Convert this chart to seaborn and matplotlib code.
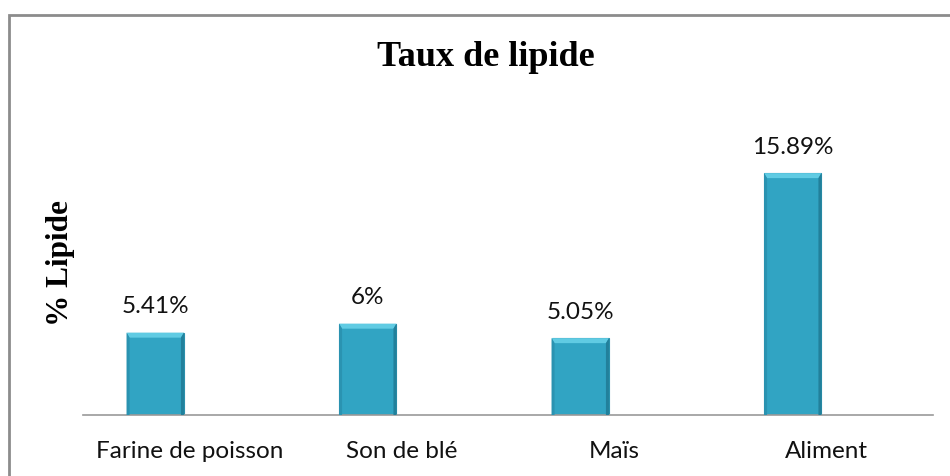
import numpy as np
import pandas as pd
import matplotlib
matplotlib.use("Agg")
import matplotlib.pyplot as plt
from matplotlib.patches import Polygon, Rectangle
import seaborn as sns

categories = ["Farine de poisson", "Son de blé", "Maïs", "Aliment"]
values = [5.41, 6.0, 5.05, 15.89]
value_labels = ["5.41%", "6%", "5.05%", "15.89%"]
title = "Taux de lipide"
ylabel = "% Lipide"

sns.set_theme(style="white")
plt.rcParams["font.family"] = ["Lato", "DejaVu Sans"]

W, H = 950, 476
fig = plt.figure(figsize=(W / 100, H / 100), dpi=100)
ax = fig.add_axes([83 / W, 61 / H, 850 / W, (415 - 141) / H])

offset = 0.16
df = pd.DataFrame({"pos": np.arange(len(categories)) - offset, "val": values})
sns.barplot(data=df, x="pos", y="val", native_scale=True, width=0.27,
            color="#31A4C3", saturation=1, edgecolor="#2A8FAB", linewidth=0.8, ax=ax)

ax.set_xlim(-0.5, 3.5)
ax.set_ylim(0, 18)

# bevel decoration derived from the bar patches
px_x = 1 / 212.5
px_y = 18 / 274
for p in list(ax.patches):
    x0, y0 = p.get_x(), p.get_y()
    w, h = p.get_width(), p.get_height()
    bt = 5 * px_y
    bs = 3 * px_x
    top = y0 + h
    ax.add_patch(Polygon([(x0, top), (x0 + w, top), (x0 + w - bs, top - bt), (x0 + bs, top - bt)],
                         closed=True, facecolor="#60CBE3", edgecolor="none", zorder=3))
    ax.add_patch(Polygon([(x0, y0), (x0, top), (x0 + bs, top - bt), (x0 + bs, y0)],
                         closed=True, facecolor="#2A93B1", edgecolor="none", zorder=3))
    ax.add_patch(Polygon([(x0 + w, y0), (x0 + w, top), (x0 + w - bs, top - bt), (x0 + w - bs, y0)],
                         closed=True, facecolor="#22809B", edgecolor="none", zorder=3))

bars = ax.patches[:len(values)]
for p, lab in zip(bars, value_labels):
    ax.annotate(lab, (p.get_x() + p.get_width() / 2, p.get_y() + p.get_height()),
                xytext=(0, 11), textcoords="offset points", ha="center", va="bottom",
                fontsize=17.5, color="#111111")

ax.set_xticks(np.arange(len(categories)))
ax.set_xticklabels(categories, fontsize=17.5, color="#111111")
ax.tick_params(axis="x", length=0, pad=19)
ax.set_yticks([])
ax.set_xlabel("")
ax.set_ylabel("")
for s in ["top", "right", "left"]:
    ax.spines[s].set_visible(False)
ax.spines["bottom"].set_color("#999999")
ax.spines["bottom"].set_linewidth(1.2)

fig.text(486 / W, 1 - 58 / H, title, ha="center", va="center",
         fontsize=26, fontweight="bold", family=["Liberation Serif"], color="#000000")
fig.text(61 / W, 1 - 263 / H, ylabel, ha="center", va="center", rotation=90,
         fontsize=22.5, fontweight="bold", family=["Liberation Serif"], color="#000000")

# outer chart border
fig.add_artist(Rectangle((9 / W, -0.05), 1.1, 1 - 15 / H + 0.05, transform=fig.transFigure,
                         fill=False, edgecolor="#8C8C8C", linewidth=2.0))

fig.savefig("out.png", dpi=100, facecolor="white")
